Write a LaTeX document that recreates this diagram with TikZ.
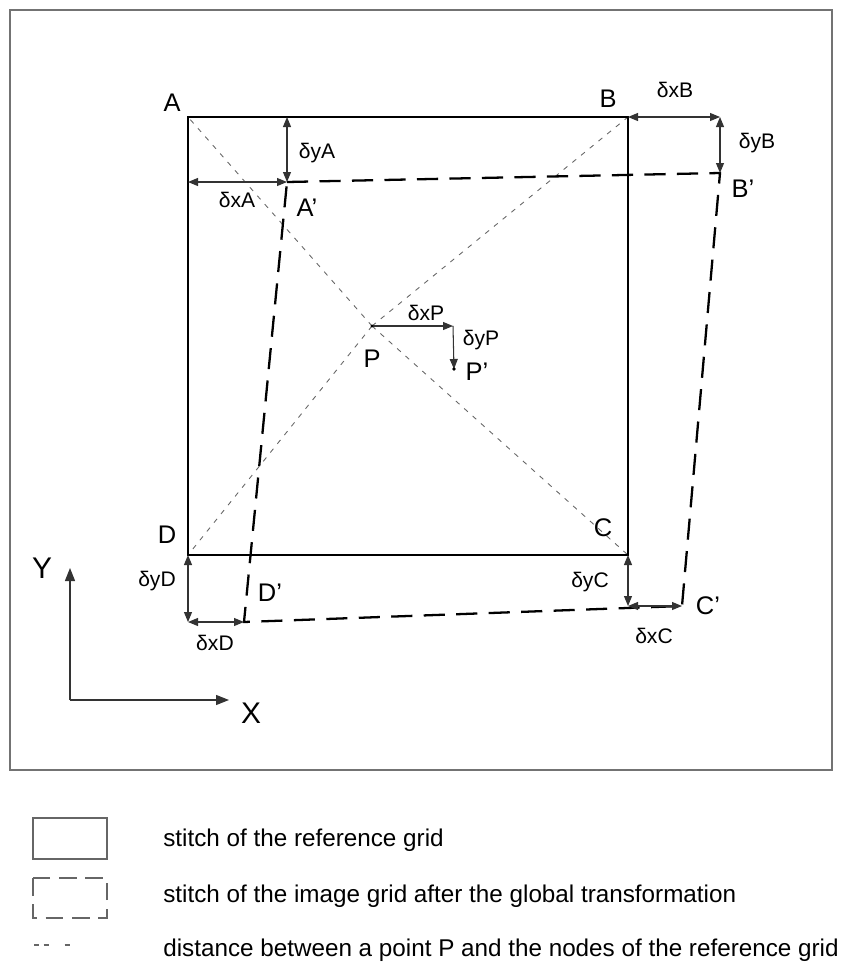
\documentclass[tikz,border=0pt]{standalone}
\usepackage{fontspec}
\setmainfont{Liberation Sans}
\usetikzlibrary{arrows.meta}

\begin{document}
\begin{tikzpicture}[x=0.02cm, y=-0.02cm,
  corner/.style={font=\fontsize{14.5}{16}\selectfont, inner sep=0pt},
  shiftlbl/.style={font=\fontsize{12}{14}\selectfont, inner sep=0pt},
  legendtxt/.style={font=\fontsize{13.8}{16}\selectfont, anchor=west, inner sep=0pt},
  refgrid/.style={line width=1.4pt},
  imggrid/.style={line width=1.3pt, dash pattern=on 12pt off 6.5pt},
  dist/.style={black!60, line width=0.5pt, dash pattern=on 2.8pt off 3.6pt},
  arr/.style={{Triangle[length=2mm,width=1.6mm]}-{Triangle[length=2mm,width=1.6mm]}, line width=0.6pt, black!80},
  onearr/.style={-{Triangle[length=2mm,width=1.6mm]}, line width=0.6pt, black!80},
  axis/.style={-{Triangle[length=2.6mm,width=2mm]}, line width=0.7pt, black!80}]
  \useasboundingbox (0,0) rectangle (852,967);
  % frame
  \draw[black!55, line width=0.8pt] (10,10) rectangle (832,770);
  % nodes of the reference grid and of the image grid
  \coordinate (A) at (188,117);
  \coordinate (B) at (628,117);
  \coordinate (C) at (628,555);
  \coordinate (D) at (188,555);
  \coordinate (A') at (287,182);
  \coordinate (B') at (720,173);
  \coordinate (C') at (682,606);
  \coordinate (D') at (244,622);
  \coordinate (P) at (372,326);
  \coordinate (Pk) at (453,326);
  \coordinate (P') at (454,369);
  % corners of the shift arrows
  \coordinate (Ay) at (287,117);
  \coordinate (Ax) at (188,182);
  \coordinate (Bx) at (720,117);
  \coordinate (Cy) at (628,606);
  \coordinate (Dy) at (188,622);
  % distances from P
  \draw[dist] (P) -- (A);
  \draw[dist] (P) -- (B);
  \draw[dist] (P) -- (C);
  \draw[dist] (P) -- (D);
  % grids
  \draw[refgrid] (A) -- (B) -- (C) -- (D) -- cycle;
  \draw[imggrid] (A') -- (B') -- (C') -- (D') -- cycle;
  % shifts
  \draw[arr] (Ay) -- (A');
  \draw[arr] (Ax) -- (A');
  \draw[arr] (B) -- (Bx);
  \draw[arr] (Bx) -- (B');
  \draw[arr] (C) -- (Cy);
  \draw[arr] (Cy) -- (C');
  \draw[arr] (D) -- (Dy);
  \draw[arr] (Dy) -- (D');
  \draw[onearr] (P) -- (Pk);
  \draw[onearr] (Pk) -- (P');
  \fill (P) circle (1.6);
  \fill (P') circle (1.8);
  % labels
  \node[corner] (lA) at (172,103) {A};
  \node[corner] (lB) at (608,99) {B};
  \node[corner] (lC) at (603,528) {C};
  \node[corner] (lD) at (167,535) {D};
  \node[corner] (lA') at (307,208) {A’};
  \node[corner] (lB') at (743,189) {B’};
  \node[corner] (lC') at (708,606) {C’};
  \node[corner] (lD') at (270,593) {D’};
  \node[corner] (lP) at (372,359) {P};
  \node[corner] (lP') at (477,372) {P’};
  \node[shiftlbl] (sA1) at (317,153) {δyA};
  \node[shiftlbl] (sA2) at (237,200) {δxA};
  \node[shiftlbl] (sB1) at (675,90) {δxB};
  \node[shiftlbl] (sB2) at (757,143) {δyB};
  \node[shiftlbl] (sP1) at (426,313) {δxP};
  \node[shiftlbl] (sP2) at (481,340) {δyP};
  \node[shiftlbl] (sC1) at (590,582) {δyC};
  \node[shiftlbl] (sC2) at (654,636) {δxC};
  \node[shiftlbl] (sD1) at (157,581) {δyD};
  \node[shiftlbl] (sD2) at (215,643) {δxD};
  % axes
  \coordinate (O) at (70,700);
  \coordinate (Xend) at (229,700);
  \coordinate (Yend) at (70,568);
  \draw[axis] (O) -- (Xend);
  \draw[axis] (O) -- (Yend);
  \node[corner, font=\fontsize{17}{18}\selectfont] (lX) at (251,713) {X};
  \node[corner, font=\fontsize{17}{18}\selectfont] (lY) at (42,568) {Y};
  % legend
  \draw[black!60, line width=1pt] (33,818) rectangle (107,859);
  \draw[black!60, line width=1pt, dash pattern=on 10pt off 5pt] (33,878) rectangle (107,918);
  \draw[black!60, line width=0.6pt, dash pattern=on 3pt off 2.5pt on 3pt off 9pt] (34,945) -- (72,945);
  \node[legendtxt] (t1) at (163,840) {stitch of the reference grid};
  \node[legendtxt] (t2) at (163,896) {stitch of the image grid after the global transformation};
  \node[legendtxt] (t3) at (163,950) {distance between a point P and the nodes of the reference grid};
\end{tikzpicture}
\end{document}
